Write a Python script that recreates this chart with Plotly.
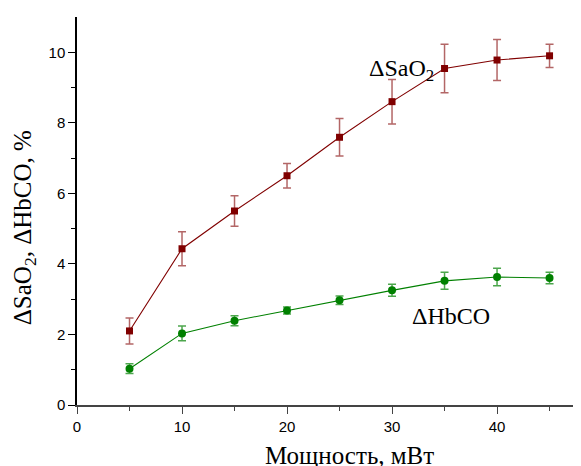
import plotly.graph_objects as go

power = [5, 10, 15, 20, 25, 30, 35, 40, 45]
sao2 = [2.1, 4.43, 5.5, 6.5, 7.59, 8.6, 9.54, 9.78, 9.9]
sao2_err = [0.37, 0.48, 0.43, 0.35, 0.53, 0.63, 0.69, 0.58, 0.33]
hbco = [1.03, 2.03, 2.39, 2.68, 2.97, 3.25, 3.52, 3.63, 3.6]
hbco_err = [0.14, 0.21, 0.14, 0.1, 0.12, 0.17, 0.24, 0.25, 0.16]

x_title = "Мощность, мВт"
y_title = "ΔSaO<sub>2</sub>, ΔHbCO, %"

red = "#800000"
green = "#008000"

fig = go.Figure()
fig.add_trace(go.Scatter(
    x=power, y=sao2, mode="lines+markers",
    line=dict(color=red, width=1.1),
    marker=dict(symbol="square", size=7, color=red),
    error_y=dict(type="data", array=sao2_err, color="rgba(128,0,0,0.6)", thickness=1.5, width=4),
    showlegend=False,
))
fig.add_trace(go.Scatter(
    x=power, y=hbco, mode="lines+markers",
    line=dict(color=green, width=1.1),
    marker=dict(symbol="circle", size=8, color=green),
    error_y=dict(type="data", array=hbco_err, color="rgba(0,128,0,0.7)", thickness=1.5, width=4),
    showlegend=False,
))

serif = "Liberation Serif, Times New Roman, serif"
fig.add_annotation(x=30.9, y=9.5, text="ΔSaO<sub>2</sub>", showarrow=False,
                   font=dict(family=serif, size=24, color="black"))
fig.add_annotation(x=35.6, y=2.52, text="ΔHbCO", showarrow=False,
                   font=dict(family=serif, size=24, color="black"))
fig.add_annotation(xref="paper", yref="paper", x=0.541, y=-0.129, text=x_title,
                   showarrow=False, xanchor="center", yanchor="middle",
                   font=dict(family=serif, size=25, color="black"))
fig.add_annotation(xref="paper", yref="paper", x=-0.105, y=0.456, text=y_title,
                   showarrow=False, xanchor="center", yanchor="middle", textangle=-90,
                   font=dict(family=serif, size=25, color="black"))

# page body has an 8px margin: size the figure so the plot area lands where the reference has it
fig.update_layout(
    width=573, height=458,
    margin=dict(l=69, r=1, t=9, b=61),
    paper_bgcolor="white", plot_bgcolor="white",
    font=dict(family="Liberation Sans, Arial, sans-serif", size=15, color="black"),
)
fig.update_xaxes(
    range=[0, 47.9], tickvals=[0, 10, 20, 30, 40], showgrid=False, zeroline=False,
    automargin=False,
    showline=True, linecolor="#444", linewidth=1.5,
    ticks="outside", ticklen=7, tickcolor="#444",
    minor=dict(tickvals=[5, 15, 25, 35, 45], ticks="outside", ticklen=4, tickcolor="#444"),
)
fig.update_yaxes(
    range=[0, 11.0], tickvals=[0, 2, 4, 6, 8, 10], showgrid=False, zeroline=False,
    automargin=False,
    showline=True, linecolor="black", linewidth=1.5,
    ticks="outside", ticklen=7, tickcolor="black",
    minor=dict(tickvals=[1, 3, 5, 7, 9], ticks="outside", ticklen=4, tickcolor="black"),
)

fig.write_html("out.html")
